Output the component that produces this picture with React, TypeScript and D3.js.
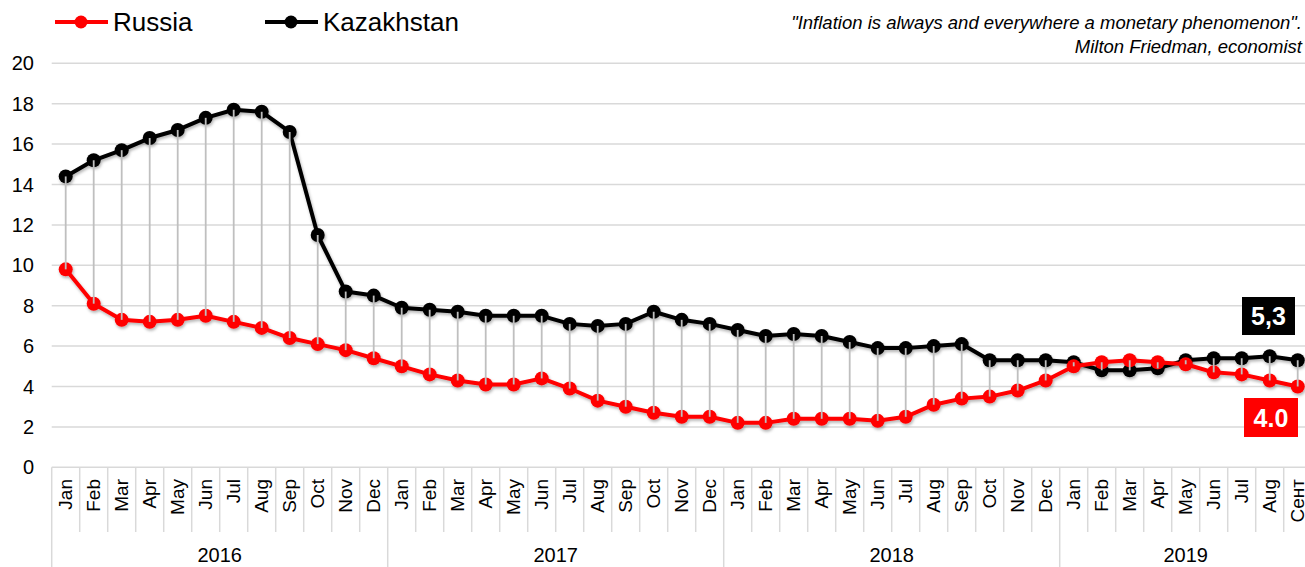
import React, { useEffect, useRef } from 'react';
import * as d3 from 'd3';

const years = ['2016', '2017', '2018', '2019'];
const monthNames = ['Jan', 'Feb', 'Mar', 'Apr', 'May', 'Jun', 'Jul', 'Aug', 'Sep', 'Oct', 'Nov', 'Dec'];
const months2019 = ['Jan', 'Feb', 'Mar', 'Apr', 'May', 'Jun', 'Jul', 'Aug', 'Сент'];

const russia = [
  9.8, 8.1, 7.3, 7.2, 7.3, 7.5, 7.2, 6.9, 6.4, 6.1, 5.8, 5.4,
  5.0, 4.6, 4.3, 4.1, 4.1, 4.4, 3.9, 3.3, 3.0, 2.7, 2.5, 2.5,
  2.2, 2.2, 2.4, 2.4, 2.4, 2.3, 2.5, 3.1, 3.4, 3.5, 3.8, 4.3,
  5.0, 5.2, 5.3, 5.2, 5.1, 4.7, 4.6, 4.3, 4.0
];
const kazakhstan = [
  14.4, 15.2, 15.7, 16.3, 16.7, 17.3, 17.7, 17.6, 16.6, 11.5, 8.7, 8.5,
  7.9, 7.8, 7.7, 7.5, 7.5, 7.5, 7.1, 7.0, 7.1, 7.7, 7.3, 7.1,
  6.8, 6.5, 6.6, 6.5, 6.2, 5.9, 5.9, 6.0, 6.1, 5.3, 5.3, 5.3,
  5.2, 4.8, 4.8, 4.9, 5.3, 5.4, 5.4, 5.5, 5.3
];
const yTicks = [0, 2, 4, 6, 8, 10, 12, 14, 16, 18, 20];

const W = 1305;
const H = 567;
const FONT = '"Liberation Sans", Arial, sans-serif';

export default function App() {
  const svgRef = useRef<SVGSVGElement>(null);

  useEffect(() => {
    if (!svgRef.current) return;
    const svg = d3.select(svgRef.current);
    svg.selectAll('*').remove();

    // category list: year + month
    const cats: { key: string; year: string; month: string }[] = [];
    years.forEach(y => {
      const ms = y === '2019' ? months2019 : monthNames;
      ms.forEach(m => cats.push({ key: `${y}-${m}`, year: y, month: m }));
    });

    const x = d3.scaleBand()
      .domain(cats.map(c => c.key))
      .range([51.7, 51.7 + 28 * cats.length])
      .padding(0);
    const y = d3.scaleLinear().domain([0, 20]).range([467.3, 63.3]);
    const cx = (i: number) => x(cats[i].key)! + x.bandwidth() / 2;

    const defs = svg.append('defs');
    const f = defs.append('filter').attr('id', 'shadow')
      .attr('x', '-5%').attr('y', '-10%').attr('width', '110%').attr('height', '130%');
    f.append('feDropShadow')
      .attr('dx', 1).attr('dy', 2).attr('stdDeviation', 1.5)
      .attr('flood-color', '#000').attr('flood-opacity', 0.3);

    // gridlines
    svg.append('g').selectAll('line')
      .data(yTicks)
      .enter().append('line')
      .attr('x1', 51.7).attr('x2', W)
      .attr('y1', d => y(d)).attr('y2', d => y(d))
      .attr('stroke', '#d9d9d9').attr('stroke-width', 1.5);

    // y labels
    svg.append('g').selectAll('text')
      .data(yTicks)
      .enter().append('text')
      .attr('x', 34).attr('y', d => y(d))
      .attr('dy', '0.35em')
      .attr('text-anchor', 'end')
      .style('font-family', FONT).style('font-size', '20px').style('fill', '#000')
      .text(d => d);

    // x axis: month separators & labels
    const xa = svg.append('g');
    cats.forEach((c, i) => {
      const x0 = x(c.key)!;
      const isYearStart = c.month === 'Jan';
      xa.append('line')
        .attr('x1', x0).attr('x2', x0)
        .attr('y1', 467.3).attr('y2', isYearStart ? H : 532)
        .attr('stroke', '#d9d9d9').attr('stroke-width', 1.5);
      xa.append('text')
        .attr('transform', `translate(${cx(i)},479) rotate(-90)`)
        .attr('dy', '0.35em')
        .attr('text-anchor', 'end')
        .style('font-family', FONT).style('font-size', '19px').style('fill', '#000')
        .text(c.month);
    });
    const lastX = x(cats[cats.length - 1].key)! + x.bandwidth();
    xa.append('line')
      .attr('x1', lastX).attr('x2', lastX).attr('y1', 467.3).attr('y2', H)
      .attr('stroke', '#d9d9d9').attr('stroke-width', 1.5);

    years.forEach(yr => {
      const idx = cats.map((c, i) => (c.year === yr ? i : -1)).filter(i => i >= 0);
      const left = x(cats[idx[0]].key)!;
      const right = x(cats[idx[idx.length - 1]].key)! + x.bandwidth();
      xa.append('text')
        .attr('x', (left + right) / 2).attr('y', 562)
        .attr('text-anchor', 'middle')
        .style('font-family', FONT).style('font-size', '20px').style('fill', '#000')
        .text(yr);
    });

    const line = d3.line<number>()
      .x((_, i) => cx(i))
      .y(d => y(d));

    const drawSeries = (vals: number[], color: string) => {
      const g = svg.append('g').attr('filter', 'url(#shadow)');
      g.append('path')
        .attr('d', line(vals)!)
        .attr('fill', 'none')
        .attr('stroke', color)
        .attr('stroke-width', 4)
        .attr('stroke-linejoin', 'round');
      g.selectAll('circle')
        .data(vals)
        .enter().append('circle')
        .attr('cx', (_, i) => cx(i))
        .attr('cy', d => y(d))
        .attr('r', 7)
        .attr('fill', color);
    };
    drawSeries(kazakhstan, '#000000');
    drawSeries(russia, '#ff0000');

    // high-low lines
    svg.append('g').selectAll('line')
      .data(russia)
      .enter().append('line')
      .attr('x1', (_, i) => cx(i)).attr('x2', (_, i) => cx(i))
      .attr('y1', d => y(d))
      .attr('y2', (_, i) => y(kazakhstan[i]))
      .attr('stroke', '#bfbfbf').attr('stroke-width', 1.8);

    // end labels
    const lastK = kazakhstan[kazakhstan.length - 1];
    const lastR = russia[russia.length - 1];
    const boxes = [
      { text: String(lastK).replace('.', ','), fill: '#000000', x: 1242, y: 297, w: 53, h: 38 },
      { text: lastR.toFixed(1), fill: '#ff0000', x: 1244, y: 398, w: 54, h: 39 }
    ];
    boxes.forEach(b => {
      svg.append('rect')
        .attr('x', b.x).attr('y', b.y).attr('width', b.w).attr('height', b.h)
        .attr('fill', b.fill);
      svg.append('text')
        .attr('x', b.x + b.w / 2).attr('y', b.y + b.h / 2)
        .attr('dy', '0.36em')
        .attr('text-anchor', 'middle')
        .style('font-family', FONT).style('font-size', '25px').style('font-weight', 'bold')
        .style('fill', '#fff')
        .text(b.text);
    });

    // legend
    const legend = [
      { name: 'Russia', color: '#ff0000', x: 55 },
      { name: 'Kazakhstan', color: '#000000', x: 265 }
    ];
    legend.forEach(l => {
      const g = svg.append('g');
      g.append('line')
        .attr('x1', l.x).attr('x2', l.x + 53).attr('y1', 22).attr('y2', 22)
        .attr('stroke', l.color).attr('stroke-width', 4);
      g.append('circle').attr('cx', l.x + 26).attr('cy', 22).attr('r', 6.5).attr('fill', l.color);
      g.append('text')
        .attr('x', l.x + 58).attr('y', 31)
        .style('font-family', FONT).style('font-size', '26px').style('fill', '#000')
        .text(l.name);
    });

    // quote
    const q = svg.append('text')
      .attr('text-anchor', 'end')
      .style('font-family', FONT).style('font-size', '18.5px').style('font-style', 'italic')
      .style('fill', '#000');
    q.append('tspan').attr('x', 1302).attr('y', 29)
      .text('"Inflation is always and everywhere a monetary phenomenon".');
    q.append('tspan').attr('x', 1302).attr('y', 53)
      .text('Milton Friedman, economist');
  }, []);

  return (
    <div style={{ position: 'absolute', left: 0, top: 0, width: W, height: H, overflow: 'hidden', background: '#fff' }}>
      <svg ref={svgRef} width={W} height={H} style={{ display: 'block' }} />
    </div>
  );
}
